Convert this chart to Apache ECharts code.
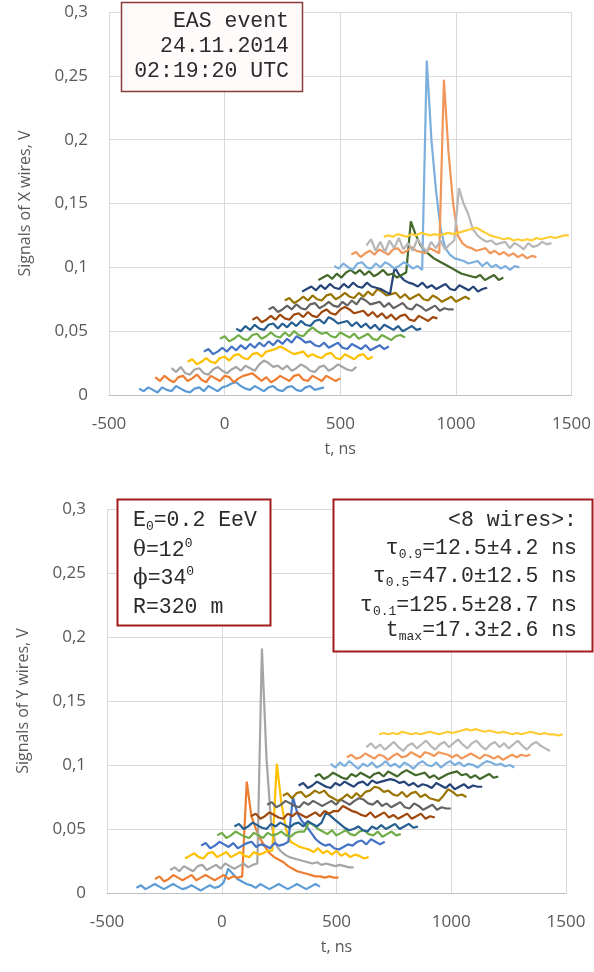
<!DOCTYPE html>
<html>
<head>
<meta charset="utf-8">
<script src="https://cdn.jsdelivr.net/npm/echarts@6/dist/echarts.min.js"></script>
<style>html,body{margin:0;padding:0;background:#fff}#c{width:594px;height:972px}</style>
</head>
<body>
<div id="c"></div>
<script>
// ---------- DATA (values in mV, sampled every stepNs from each trace's start) ----------
const stepNs = 20;
const xTicks = [-500, 0, 500, 1000, 1500];
const yTicks = [0, 0.05, 0.1, 0.15, 0.2, 0.25, 0.3];
const wireColors = ['#5B9BD5','#ED7D31','#A5A5A5','#FFC000','#4472C4','#70AD47','#255E91','#9E480E','#636363','#997300','#264478','#43682B','#7CAFDD','#F1975A','#B7B7B7','#FFCD33'];

// X wires (top panel)
const xStarts = [-370,-300,-230,-160,-90,-20,50,120,190,260,335,405,474,548,613,688];
const xW1  = [5,3,6,4,2,6,4,3,7,5,3,2,5,6,3,7,5,3,6,7,9,10,7,5,4,7,5,3,6,7,4,3,6,7,4,3,6,7,4,5,6];
const xW2  = [14,11,15,12,10,14,15,11,13,16,12,10,15,13,11,15,14,10,13,15,16,17,14,11,14,10,12,15,13,11,15,16,12,11,15,13,11,15,13,11,13];
const xW3  = [21,18,22,17,16,20,21,17,16,20,22,19,17,20,22,19,23,21,19,24,27,25,22,23,20,23,19,21,24,22,19,18,22,23,19,21,24,22,20,19,22];
const xW4  = [26,28,24,26,29,26,25,29,30,27,31,32,29,28,32,33,30,34,35,36,38,36,34,32,33,34,30,32,30,29,32,33,29,28,32,30,28,31,32,28,30];
const xW5  = [34,36,32,34,37,34,38,35,39,36,40,37,41,38,42,39,43,40,44,41,46,44,41,42,39,38,41,37,39,41,37,36,40,38,36,39,35,37,39,36,38];
const xW6  = [44,46,42,44,47,44,43,47,48,44,46,49,46,45,49,46,50,47,46,50,53,50,48,49,46,45,49,47,45,48,44,46,48,44,43,47,45,43,46,47,45];
const xW7  = [52,50,54,51,55,52,51,55,56,52,56,53,57,54,58,55,54,58,59,56,61,59,56,57,58,54,57,53,56,52,55,51,55,53,51,54,50,52,54,51,52];
const xW8  = [59,61,57,59,62,59,63,60,59,63,64,61,65,62,61,65,67,64,63,67,69,67,64,65,66,62,65,61,64,60,63,59,62,63,59,58,62,60,58,61,60];
const xW9  = [67,69,65,67,70,67,71,68,67,71,72,68,70,73,70,69,73,70,74,71,76,74,71,72,73,69,72,68,70,72,68,67,71,69,66,68,70,66,68,67,67];
const xW10 = [74,76,72,74,77,74,78,75,74,78,79,75,77,80,77,76,80,77,81,78,83,81,78,79,80,76,79,75,77,79,75,74,78,76,73,75,77,73,75,77,75];
const xW11 = [81,83,85,82,86,83,87,84,83,87,84,88,85,84,88,85,84,83,81,79,100,94,90,88,87,85,88,84,86,83,85,87,83,82,86,84,82,85,81,83,84];
const xW12 = [90,92,94,91,95,92,96,98,95,98,94,97,93,95,98,94,95,92,94,96,136,126,118,113,110,107,105,103,101,99,97,95,94,93,92,94,90,92,94,90,92];
const xW13 = [101,99,103,100,98,103,104,100,99,103,100,104,102,99,101,104,102,99,101,98,262,200,160,130,115,110,107,106,105,103,104,105,101,104,100,102,99,101,98,101,100];
const xW14 = [110,112,108,111,113,110,114,112,110,114,115,111,113,116,113,112,111,115,113,111,247,190,150,125,119,116,115,113,114,115,111,113,110,112,109,111,108,110,107,109,108];
const xW15 = [117,122,113,120,112,121,115,123,114,119,113,122,117,112,120,115,121,114,118,121,162,150,142,130,125,122,120,121,118,119,120,115,119,117,114,119,116,117,120,118,119];
const xW16 = [124,125,124,126,125,124,126,125,127,126,125,126,125,126,127,126,127,128,129,130,131,129,127,125,124,123,122,123,121,122,121,122,121,123,122,123,124,123,124,125,125];
const xValues = [xW1,xW2,xW3,xW4,xW5,xW6,xW7,xW8,xW9,xW10,xW11,xW12,xW13,xW14,xW15,xW16];

// Y wires (bottom panel)
const yStarts = [-372,-291,-225,-160,-90,-20,55,128,198,266,335,405,475,545,630,686];
const yW1  = [4,6,3,5,7,5,3,5,7,5,3,4,6,4,2,4,6,4,5,8,19,15,11,9,7,6,4,7,5,3,5,7,5,3,5,7,5,3,5,7,5];
const yW2  = [11,13,9,11,14,12,10,12,14,10,12,14,12,10,12,14,11,13,12,13,87,60,50,42,36,31,28,26,24,21,19,17,16,15,14,13,13,12,13,12,12];
const yW3  = [18,20,17,21,19,17,21,22,18,20,22,19,23,21,19,21,23,20,22,23,191,105,55,38,33,30,28,27,26,25,24,23,24,22,23,22,21,22,21,20,20];
const yW4  = [27,29,31,28,27,31,32,28,30,32,28,30,32,29,28,32,30,31,33,33,101,70,50,40,38,36,35,34,32,35,31,33,30,33,29,31,28,30,29,27,28];
const yW5  = [37,39,35,37,40,38,36,39,35,37,39,40,36,38,37,35,39,37,38,40,75,62,56,52,47,42,39,37,38,35,34,36,38,37,40,41,38,42,40,38,40];
const yW6  = [45,47,43,45,48,46,44,43,47,45,43,47,45,46,48,45,44,47,48,48,55,53,50,48,46,49,45,47,49,46,45,48,49,46,45,48,44,46,48,45,46];
const yW7  = [52,54,50,52,55,53,51,50,54,52,55,53,51,54,55,52,56,54,52,55,63,60,57,54,51,49,50,52,49,48,52,50,53,50,52,54,50,52,54,51,52];
const yW8  = [60,62,58,60,63,61,59,58,62,60,63,61,59,61,63,60,64,62,64,64,68,66,64,63,61,60,63,59,61,63,59,61,58,60,62,58,60,62,58,60,59];
const yW9  = [69,71,67,69,72,70,68,67,71,69,72,70,68,70,72,69,73,71,69,72,74,73,70,69,72,68,70,67,69,71,67,66,70,68,65,67,69,65,67,66,66];
const yW10 = [76,78,74,78,79,75,77,80,78,80,76,74,72,74,77,74,78,75,79,80,83,82,79,80,77,76,79,75,78,79,75,77,74,73,72,76,81,79,76,77,75];
const yW11 = [84,86,82,84,87,85,83,82,86,84,87,85,83,86,87,84,88,86,87,88,89,88,86,87,84,86,83,85,84,82,86,84,82,85,81,83,85,82,84,83,83];
const yW12 = [91,93,89,91,94,92,90,89,93,91,94,92,90,93,94,91,95,93,91,94,96,94,92,93,94,90,92,89,91,93,94,95,92,93,90,92,89,91,93,90,91];
const yW13 = [101,98,102,99,103,100,97,101,99,102,98,100,103,99,101,98,102,100,97,101,103,100,99,102,98,101,103,100,102,99,101,100,98,101,103,102,100,101,99,100,98];
const yW14 = [106,108,105,106,109,107,105,108,107,104,107,109,106,107,110,108,106,110,109,107,110,109,108,106,108,105,107,109,107,105,108,107,105,107,104,106,108,106,108,107,108];
const yW15 = [114,117,113,116,112,115,118,114,111,115,117,113,116,119,115,112,116,118,114,117,120,116,113,117,119,115,112,116,118,114,117,113,116,119,115,112,116,118,115,113,111];
const yW16 = [124,125,124,125,124,126,125,124,125,124,125,126,125,124,125,126,125,126,127,128,127,128,127,126,127,126,125,126,125,124,125,124,125,126,125,124,125,124,124,123,124];
const yValues = [yW1,yW2,yW3,yW4,yW5,yW6,yW7,yW8,yW9,yW10,yW11,yW12,yW13,yW14,yW15,yW16];

// ---------- CHART ----------
const chart = echarts.init(document.getElementById('c'), null, {renderer: 'canvas'});
const labelColor = '#595959';
const uiFont = 'Open Sans';
const monoFont = 'Liberation Mono';

function fmtY(v) { return Number(v.toFixed(2)).toString().replace('.', ','); }
function fmtX(v) { return String(Math.round(v)); }

function makeX(gi) {
  return {
    type: 'value', gridIndex: gi, min: xTicks[0], max: xTicks[xTicks.length - 1], interval: 500,
    axisLine: {show: true, onZero: false, lineStyle: {color: '#BFBFBF', width: 1}},
    axisTick: {show: false},
    splitLine: {show: true, lineStyle: {color: '#D9D9D9', width: 1}},
    axisLabel: {color: labelColor, fontSize: 17, fontFamily: uiFont, margin: 21, formatter: fmtX},
    name: 't, ns', nameLocation: 'middle', nameGap: 46,
    nameTextStyle: {color: labelColor, fontSize: 16, fontFamily: uiFont}
  };
}
function makeY(gi, name) {
  return {
    type: 'value', gridIndex: gi, min: yTicks[0], max: yTicks[yTicks.length - 1], interval: 0.05,
    axisLine: {show: false}, axisTick: {show: false},
    splitLine: {show: true, lineStyle: {color: '#D9D9D9', width: 1}},
    axisLabel: {color: labelColor, fontSize: 17, fontFamily: uiFont, margin: 21, formatter: fmtY},
    name: name, nameLocation: 'middle', nameGap: 76, nameRotate: 90,
    nameTextStyle: {color: labelColor, fontSize: 16, fontFamily: uiFont}
  };
}

const series = [];
function addPanel(starts, values, gi) {
  values.forEach((arr, i) => {
    series.push({
      type: 'line', xAxisIndex: gi, yAxisIndex: gi,
      showSymbol: false, symbol: 'none', animation: false,
      lineStyle: {color: wireColors[i], width: 2.2},
      itemStyle: {color: wireColors[i]},
      data: arr.map((mv, k) => [starts[i] + k * stepNs, mv / 1000])
    });
  });
}
addPanel(xStarts, xValues, 0);
addPanel(yStarts, yValues, 1);

const textFill = '#2b2b2b';
const M = {fontSize: 21.5, fontFamily: monoFont, fill: textFill, lineHeight: 26};
const S = {fontSize: 13, fontFamily: monoFont, fill: textFill, lineHeight: 12, verticalAlign: 'bottom'};
const U = {fontSize: 13, fontFamily: monoFont, fill: textFill, lineHeight: 12, verticalAlign: 'top'};
const G = {fontSize: 21.5, fontFamily: 'DejaVu Serif', fill: textFill, lineHeight: 26};

function line(x, y, text, align) {
  return {
    type: 'text', x: x, y: y, z: 110,
    style: {text: text, align: align, textAlign: align, verticalAlign: 'middle', textVerticalAlign: 'middle',
            fill: textFill, font: '21.5px "Liberation Mono"', rich: {m: M, s: S, u: U, g: G}}
  };
}

const graphic = [
  {type: 'rect', z: 100, shape: {x: 121.5, y: 2.5, width: 181, height: 89},
   style: {fill: '#FFFBFB', stroke: '#8A3A3A', lineWidth: 1.5}},
  line(289, 21, '{m|EAS event}', 'right'),
  line(289, 46, '{m|24.11.2014}', 'right'),
  line(289, 71, '{m|02:19:20 UTC}', 'right'),

  {type: 'rect', z: 100, shape: {x: 117.5, y: 499.5, width: 153, height: 126},
   style: {fill: '#FFFFFF', stroke: '#A31A1A', lineWidth: 2}},
  line(133, 520, '{m|E}{s|0}{m|=0.2 EeV}', 'left'),
  line(133, 550, '{g|θ}{m|=12}{u|0}', 'left'),
  line(133, 578, '{g|ϕ}{m|=34}{u|0}', 'left'),
  line(133, 607, '{m|R=320 m}', 'left'),

  {type: 'rect', z: 100, shape: {x: 333.5, y: 499.5, width: 259, height: 152},
   style: {fill: '#FFFFFF', stroke: '#A31A1A', lineWidth: 2}},
  line(577, 520, '{m|<8 wires>:}', 'right'),
  line(577, 548, '{m|τ}{s|0.9}{m|=12.5±4.2 ns}', 'right'),
  line(577, 576, '{m|τ}{s|0.5}{m|=47.0±12.5 ns}', 'right'),
  line(577, 605, '{m|τ}{s|0.1}{m|=125.5±28.7 ns}', 'right'),
  line(577, 630, '{m|t}{s|max}{m|=17.3±2.6 ns}', 'right')
];

chart.setOption({
  animation: false,
  backgroundColor: '#FFFFFF',
  grid: [
    {left: 109, top: 12, width: 463, height: 383, containLabel: false},
    {left: 107, top: 509, width: 459, height: 384, containLabel: false}
  ],
  xAxis: [makeX(0), makeX(1)],
  yAxis: [makeY(0, 'Signals of X wires, V'), makeY(1, 'Signals of Y wires, V')],
  series: series,
  graphic: graphic
});
</script>
</body>
</html>
